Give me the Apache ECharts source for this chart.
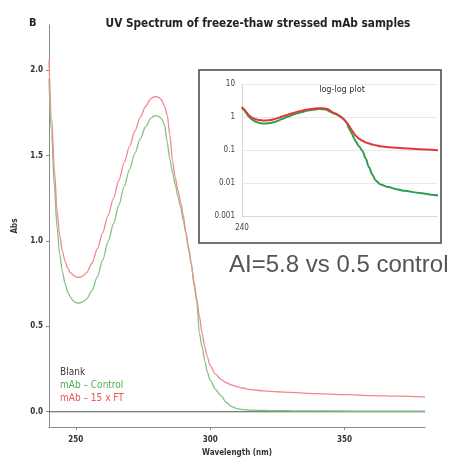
<!DOCTYPE html>
<html>
<head>
<meta charset="utf-8">
<script src="https://cdn.jsdelivr.net/npm/echarts@6/dist/echarts.min.js"></script>
<style>
  html, body { margin: 0; padding: 0; background: #fff; }
  #chart { width: 472px; height: 462px; }
</style>
</head>
<body>
<div id="chart"></div>
<script>
// Wavelength grid (nm) shared by both absorbance traces
const wavelengths = [240, 241, 242, 243, 244, 245, 246, 247, 248, 249, 250, 251, 252, 253, 254,
  256, 258, 260, 262, 264, 266, 268, 270, 272, 274, 276, 278, 279, 280, 281, 282, 283, 284, 285, 286, 287,
  288, 289, 290, 291, 292, 293, 294, 295, 296, 297, 298, 299, 300, 302, 304, 306, 308, 310, 312,
  315, 320, 325, 330, 340, 350, 360, 370, 380];

// mAb – Control absorbance
const controlAbs = [1.95, 1.62, 1.32, 1.08, 0.92, 0.82, 0.75, 0.70, 0.67, 0.65, 0.64, 0.637, 0.64, 0.648, 0.66,
  0.71, 0.79, 0.89, 0.995, 1.10, 1.21, 1.32, 1.42, 1.515, 1.60, 1.67, 1.72, 1.733, 1.735, 1.728, 1.715, 1.68, 1.58, 1.48, 1.40, 1.33,
  1.26, 1.20, 1.12, 1.05, 0.96, 0.87, 0.74, 0.65, 0.46, 0.38, 0.30, 0.23, 0.185, 0.13, 0.095, 0.055, 0.03, 0.018, 0.012,
  0.009, 0.0075, 0.0065, 0.0058, 0.005, 0.0043, 0.0039, 0.0036, 0.0033];

// mAb – 15 x FT absorbance
const stressedAbs = [2.06, 1.72, 1.42, 1.18, 1.03, 0.94, 0.88, 0.84, 0.815, 0.80, 0.79, 0.788, 0.79, 0.80, 0.815,
  0.87, 0.955, 1.05, 1.15, 1.25, 1.355, 1.46, 1.555, 1.645, 1.725, 1.79, 1.835, 1.845, 1.846, 1.84, 1.825, 1.79, 1.74, 1.62, 1.47, 1.37,
  1.30, 1.23, 1.15, 1.04, 0.95, 0.86, 0.76, 0.66, 0.56, 0.46, 0.38, 0.32, 0.27, 0.22, 0.19, 0.17, 0.157, 0.147, 0.139,
  0.13, 0.122, 0.117, 0.113, 0.106, 0.10, 0.095, 0.091, 0.087];

// Blank baseline
const blankWl = [240, 380];
const blankAbs = [0, 0];

// Axis ticks
const absTicks = [0, 0.5, 1.0, 1.5, 2.0];
const wlTicks = [250, 300, 350];
const logTicks = [0.001, 0.01, 0.1, 1, 10];
const logTickLabels = ['0.001', '0.01', '0.1', '1', '10'];
const insetWlTicks = [240];

const seriesNames = ['Blank', 'mAb – Control', 'mAb – 15 x FT'];
const legendColors = ['#3a3a3a', '#4caf50', '#ef5350'];

const pairs = (xs, ys) => xs.map((x, i) => [x, ys[i]]);

const cond = '"DejaVu Sans Condensed", "DejaVu Sans", sans-serif';

const chart = echarts.init(document.getElementById('chart'), null, { renderer: 'canvas' });

chart.setOption({
  animation: false,
  backgroundColor: '#fff',
  title: [{
    text: 'UV Spectrum of freeze-thaw stressed mAb samples',
    left: 253, top: 13, textAlign: 'center',
    textStyle: { fontFamily: cond, fontWeight: 'bold', fontSize: 11.7, color: '#222' }
  }, {
    text: 'B', left: 24, top: 13,
    textStyle: { fontFamily: cond, fontWeight: 'bold', fontSize: 11, color: '#222' }
  }],
  grid: [
    { left: 49, right: 47, top: 25, bottom: 29 },
    { left: 242, right: 35, top: 84, bottom: 246 }
  ],
  xAxis: [{
    gridIndex: 0, type: 'value', min: 240, max: 380,
    name: 'Wavelength (nm)', nameLocation: 'middle', nameGap: 21,
    nameTextStyle: { fontFamily: cond, fontWeight: 'bold', fontSize: 8, color: '#333' },
    axisLine: { show: true, onZero: false, lineStyle: { color: '#8a8a8a', width: 1 } },
    axisTick: { show: true, customValues: wlTicks, length: 3, lineStyle: { color: '#8a8a8a' } },
    axisLabel: { customValues: wlTicks, margin: 9, fontFamily: cond, fontWeight: 'bold', fontSize: 8, color: '#333' },
    splitLine: { show: false }
  }, {
    gridIndex: 1, type: 'log', logBase: 10, min: 240, max: 352,
    axisLine: { show: true, lineStyle: { color: '#d8d8d8' } },
    axisTick: { show: false },
    axisLabel: { customValues: insetWlTicks, margin: 8, fontFamily: cond, fontSize: 8, color: '#444' },
    splitLine: { show: false }
  }],
  yAxis: [{
    gridIndex: 0, type: 'value', min: -0.09, max: 2.266,
    name: 'Abs', nameLocation: 'middle', nameGap: 28, nameRotate: 90,
    nameTextStyle: { fontFamily: cond, fontWeight: 'bold', fontSize: 8, color: '#333' },
    axisLine: { show: true, onZero: false, lineStyle: { color: '#8a8a8a', width: 1 } },
    axisTick: { show: true, customValues: absTicks, length: 3, lineStyle: { color: '#8a8a8a' } },
    axisLabel: {
      customValues: absTicks, margin: 6, fontFamily: cond, fontWeight: 'bold', fontSize: 8, color: '#333',
      formatter: v => Number(v).toFixed(1)
    },
    splitLine: { show: false }
  }, {
    gridIndex: 1, type: 'log', logBase: 10, min: 0.001, max: 10,
    axisLine: { show: true, lineStyle: { color: '#d8d8d8' } },
    axisTick: { show: false },
    axisLabel: {
      customValues: logTicks, margin: 7, fontFamily: cond, fontSize: 8, color: '#444',
      formatter: v => logTickLabels[logTicks.findIndex(t => Math.abs(Math.log10(t) - Math.log10(v)) < 1e-6)] || ''
    },
    splitLine: { show: true, lineStyle: { color: '#e8e8e8', width: 1 } }
  }],
  series: [{
    name: seriesNames[0], type: 'line', xAxisIndex: 0, yAxisIndex: 0,
    data: pairs(blankWl, blankAbs), showSymbol: false,
    lineStyle: { color: '#505a52', width: 1.2 }, z: 2
  }, {
    name: seriesNames[1], type: 'line', xAxisIndex: 0, yAxisIndex: 0,
    data: pairs(wavelengths, controlAbs), showSymbol: false, smooth: 0.3, smoothMonotone: 'x',
    lineStyle: { color: '#7fc47f', width: 1.3 }, z: 3
  }, {
    name: seriesNames[2], type: 'line', xAxisIndex: 0, yAxisIndex: 0,
    data: pairs(wavelengths, stressedAbs), showSymbol: false, smooth: 0.3, smoothMonotone: 'x',
    lineStyle: { color: '#f08a8f', width: 1.3 }, z: 3
  }, {
    name: 'inset-control', type: 'line', xAxisIndex: 1, yAxisIndex: 1, clip: true,
    data: pairs(wavelengths, controlAbs), showSymbol: false, smooth: 0.3, smoothMonotone: 'x',
    lineStyle: { color: '#2f9e4f', width: 2 }, z: 5
  }, {
    name: 'inset-stressed', type: 'line', xAxisIndex: 1, yAxisIndex: 1, clip: true,
    data: pairs(wavelengths, stressedAbs), showSymbol: false, smooth: 0.3, smoothMonotone: 'x',
    lineStyle: { color: '#e3363c', width: 2 }, z: 6
  }],
  graphic: [{
    type: 'rect', z: -1, silent: true,
    shape: { x: 199, y: 70, width: 242, height: 173 },
    style: { fill: '#fff', stroke: '#444', lineWidth: 1.5 }
  }, {
    type: 'text', z: 10, x: 342, y: 90,
    style: { text: 'log-log plot', font: '9px ' + cond, fill: '#333', align: 'center', verticalAlign: 'middle' }
  }, {
    type: 'text', z: 10, x: 229, y: 265,
    style: {
      text: 'AI=5.8 vs 0.5 control', fontFamily: '"Liberation Sans", Arial, sans-serif',
      fontSize: 24, fill: '#555', verticalAlign: 'middle', align: 'left'
    }
  }].concat(seriesNames.map((name, i) => ({
    type: 'text', z: 10, x: 60, y: 372 + i * 13,
    style: { text: name, fontFamily: cond, fontSize: 10, fill: legendColors[i], verticalAlign: 'middle' }
  }))),
  tooltip: { show: false }
});
</script>
</body>
</html>
